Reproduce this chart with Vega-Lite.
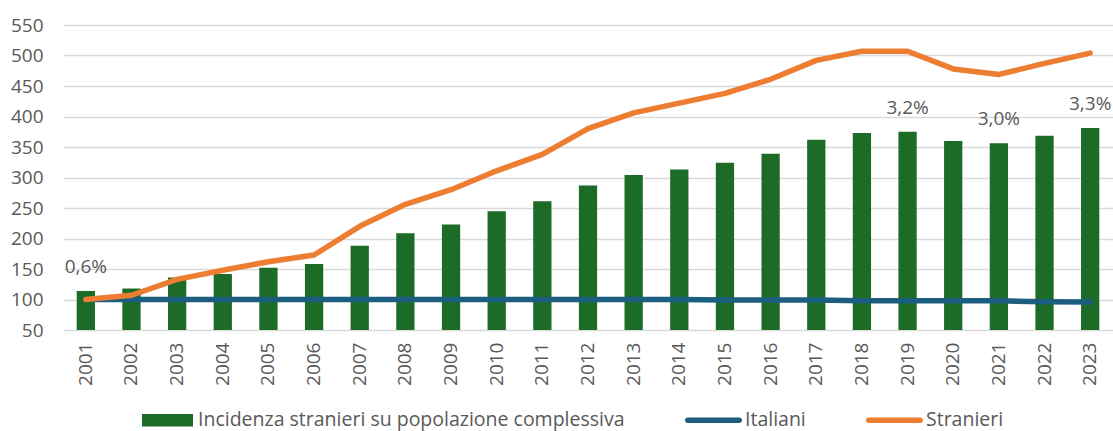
{
  "$schema": "https://vega.github.io/schema/vega-lite/v6.json",
  "width": 1050,
  "height": 305,
  "autosize": {"type": "none"},
  "padding": {"left": 63, "top": 25, "right": 0, "bottom": 101},
  "background": "white",
  "config": {
    "font": "Open Sans",
    "view": {"stroke": null},
    "axis": {"labelFont": "Open Sans", "labelFontSize": 19, "labelColor": "#595959", "domain": false, "ticks": false, "tickSize": 0, "title": null}
  },
  "datasets": {
    "incidenza": [
      {"anno": "2001", "serie": "Incidenza stranieri su popolazione complessiva", "pct": 0.64, "etichetta": "0,6%"},
      {"anno": "2002", "serie": "Incidenza stranieri su popolazione complessiva", "pct": 0.68, "etichetta": ""},
      {"anno": "2003", "serie": "Incidenza stranieri su popolazione complessiva", "pct": 0.86, "etichetta": ""},
      {"anno": "2004", "serie": "Incidenza stranieri su popolazione complessiva", "pct": 0.92, "etichetta": ""},
      {"anno": "2005", "serie": "Incidenza stranieri su popolazione complessiva", "pct": 1.02, "etichetta": ""},
      {"anno": "2006", "serie": "Incidenza stranieri su popolazione complessiva", "pct": 1.08, "etichetta": ""},
      {"anno": "2007", "serie": "Incidenza stranieri su popolazione complessiva", "pct": 1.38, "etichetta": ""},
      {"anno": "2008", "serie": "Incidenza stranieri su popolazione complessiva", "pct": 1.585, "etichetta": ""},
      {"anno": "2009", "serie": "Incidenza stranieri su popolazione complessiva", "pct": 1.73, "etichetta": ""},
      {"anno": "2010", "serie": "Incidenza stranieri su popolazione complessiva", "pct": 1.945, "etichetta": ""},
      {"anno": "2011", "serie": "Incidenza stranieri su popolazione complessiva", "pct": 2.11, "etichetta": ""},
      {"anno": "2012", "serie": "Incidenza stranieri su popolazione complessiva", "pct": 2.37, "etichetta": ""},
      {"anno": "2013", "serie": "Incidenza stranieri su popolazione complessiva", "pct": 2.54, "etichetta": ""},
      {"anno": "2014", "serie": "Incidenza stranieri su popolazione complessiva", "pct": 2.63, "etichetta": ""},
      {"anno": "2015", "serie": "Incidenza stranieri su popolazione complessiva", "pct": 2.74, "etichetta": ""},
      {"anno": "2016", "serie": "Incidenza stranieri su popolazione complessiva", "pct": 2.89, "etichetta": ""},
      {"anno": "2017", "serie": "Incidenza stranieri su popolazione complessiva", "pct": 3.12, "etichetta": ""},
      {"anno": "2018", "serie": "Incidenza stranieri su popolazione complessiva", "pct": 3.23, "etichetta": ""},
      {"anno": "2019", "serie": "Incidenza stranieri su popolazione complessiva", "pct": 3.25, "etichetta": "3,2%"},
      {"anno": "2020", "serie": "Incidenza stranieri su popolazione complessiva", "pct": 3.10, "etichetta": ""},
      {"anno": "2021", "serie": "Incidenza stranieri su popolazione complessiva", "pct": 3.06, "etichetta": "3,0%"},
      {"anno": "2022", "serie": "Incidenza stranieri su popolazione complessiva", "pct": 3.185, "etichetta": ""},
      {"anno": "2023", "serie": "Incidenza stranieri su popolazione complessiva", "pct": 3.31, "etichetta": "3,3%"}
    ],
    "indici": [
      {"anno": "2001", "serie": "Italiani", "valore": 100},
      {"anno": "2002", "serie": "Italiani", "valore": 100},
      {"anno": "2003", "serie": "Italiani", "valore": 100},
      {"anno": "2004", "serie": "Italiani", "valore": 100},
      {"anno": "2005", "serie": "Italiani", "valore": 100},
      {"anno": "2006", "serie": "Italiani", "valore": 100},
      {"anno": "2007", "serie": "Italiani", "valore": 100},
      {"anno": "2008", "serie": "Italiani", "valore": 100},
      {"anno": "2009", "serie": "Italiani", "valore": 100},
      {"anno": "2010", "serie": "Italiani", "valore": 100},
      {"anno": "2011", "serie": "Italiani", "valore": 100},
      {"anno": "2012", "serie": "Italiani", "valore": 100},
      {"anno": "2013", "serie": "Italiani", "valore": 100},
      {"anno": "2014", "serie": "Italiani", "valore": 100},
      {"anno": "2015", "serie": "Italiani", "valore": 99.3},
      {"anno": "2016", "serie": "Italiani", "valore": 99},
      {"anno": "2017", "serie": "Italiani", "valore": 99},
      {"anno": "2018", "serie": "Italiani", "valore": 98},
      {"anno": "2019", "serie": "Italiani", "valore": 98},
      {"anno": "2020", "serie": "Italiani", "valore": 98},
      {"anno": "2021", "serie": "Italiani", "valore": 97.8},
      {"anno": "2022", "serie": "Italiani", "valore": 96.2},
      {"anno": "2023", "serie": "Italiani", "valore": 96},
      {"anno": "2001", "serie": "Stranieri", "valore": 100},
      {"anno": "2002", "serie": "Stranieri", "valore": 107},
      {"anno": "2003", "serie": "Stranieri", "valore": 133},
      {"anno": "2004", "serie": "Stranieri", "valore": 148},
      {"anno": "2005", "serie": "Stranieri", "valore": 162},
      {"anno": "2006", "serie": "Stranieri", "valore": 173},
      {"anno": "2007", "serie": "Stranieri", "valore": 220},
      {"anno": "2008", "serie": "Stranieri", "valore": 256},
      {"anno": "2009", "serie": "Stranieri", "valore": 280},
      {"anno": "2010", "serie": "Stranieri", "valore": 311},
      {"anno": "2011", "serie": "Stranieri", "valore": 338},
      {"anno": "2012", "serie": "Stranieri", "valore": 380},
      {"anno": "2013", "serie": "Stranieri", "valore": 406},
      {"anno": "2014", "serie": "Stranieri", "valore": 422},
      {"anno": "2015", "serie": "Stranieri", "valore": 438},
      {"anno": "2016", "serie": "Stranieri", "valore": 461},
      {"anno": "2017", "serie": "Stranieri", "valore": 492},
      {"anno": "2018", "serie": "Stranieri", "valore": 507},
      {"anno": "2019", "serie": "Stranieri", "valore": 507},
      {"anno": "2020", "serie": "Stranieri", "valore": 478},
      {"anno": "2021", "serie": "Stranieri", "valore": 469},
      {"anno": "2022", "serie": "Stranieri", "valore": 487},
      {"anno": "2023", "serie": "Stranieri", "valore": 504}
    ]
  },
  "layer": [
    {
      "data": {"name": "incidenza"},
      "layer": [
        {
          "mark": {"type": "bar"},
          "encoding": {
            "x": {"field": "anno", "type": "ordinal", "scale": {"paddingInner": 0.6, "paddingOuter": 0.3}, "axis": {"labelAngle": -90, "labelPadding": 12, "grid": false}},
            "y": {"field": "pct", "type": "quantitative", "scale": {"domain": [0, 5], "nice": false}, "axis": null},
            "color": {
              "field": "serie",
              "type": "nominal",
              "scale": {"domain": ["Incidenza stranieri su popolazione complessiva", "Italiani", "Stranieri"], "range": ["#1c6b26", "#1b5e80", "#ed7d31"]},
              "legend": {
                "title": null,
                "orient": "none",
                "legendX": 79,
                "legendY": 395,
                "direction": "horizontal",
                "columns": 3,
                "symbolSize": 3249,
                "labelFont": "Open Sans",
                "labelFontSize": 19.5,
                "labelColor": "#595959",
                "labelLimit": 700,
                "columnPadding": 60,
                "encode": {
                  "symbols": {
                    "update": {
                      "x": {"signal": "datum.value === 'Incidenza stranieri su popolazione complessiva' ? 25.5 : 28.5"},
                      "y": {"value": 0},
                      "size": {"value": 3249},
                      "shape": {"signal": "datum.value === 'Incidenza stranieri su popolazione complessiva' ? 'M-0.895,-0.22H0.895V0.22H-0.895Z' : 'M-0.9035,-0.0965H0.9035A0.0965,0.0965 0 0 1 0.9035,0.0965H-0.9035A0.0965,0.0965 0 0 1 -0.9035,-0.0965Z'"},
                      "fill": {"scale": "color", "field": "value"},
                      "fillOpacity": {"value": 1},
                      "stroke": {"value": "transparent"},
                      "strokeWidth": {"value": 0}
                    }
                  },
                  "labels": {
                    "update": {
                      "x": {"signal": "datum.value === 'Incidenza stranieri su popolazione complessiva' ? 56 : 60"},
                      "y": {"value": 0},
                      "baseline": {"value": "middle"}
                    }
                  }
                }
              }
            }
          }
        },
        {
          "mark": {"type": "text", "dy": -18, "baseline": "alphabetic", "align": "center", "fontSize": 19, "font": "Open Sans", "color": "#595959"},
          "encoding": {
            "x": {"field": "anno", "type": "ordinal"},
            "y": {"field": "pct", "type": "quantitative"},
            "text": {"field": "etichetta"}
          }
        }
      ]
    },
    {
      "data": {"name": "indici"},
      "mark": {"type": "line", "strokeWidth": 5.5, "strokeCap": "round", "strokeJoin": "round"},
      "encoding": {
        "x": {"field": "anno", "type": "ordinal"},
        "y": {"field": "valore", "type": "quantitative", "scale": {"domain": [50, 550], "nice": false, "zero": false}, "axis": {"orient": "left", "values": [50, 100, 150, 200, 250, 300, 350, 400, 450, 500, 550], "grid": true, "gridColor": "#d9d9d9", "gridWidth": 1.5, "labelPadding": 20}},
        "color": {"field": "serie", "type": "nominal"}
      }
    }
  ],
  "resolve": {"scale": {"y": "independent"}}
}
